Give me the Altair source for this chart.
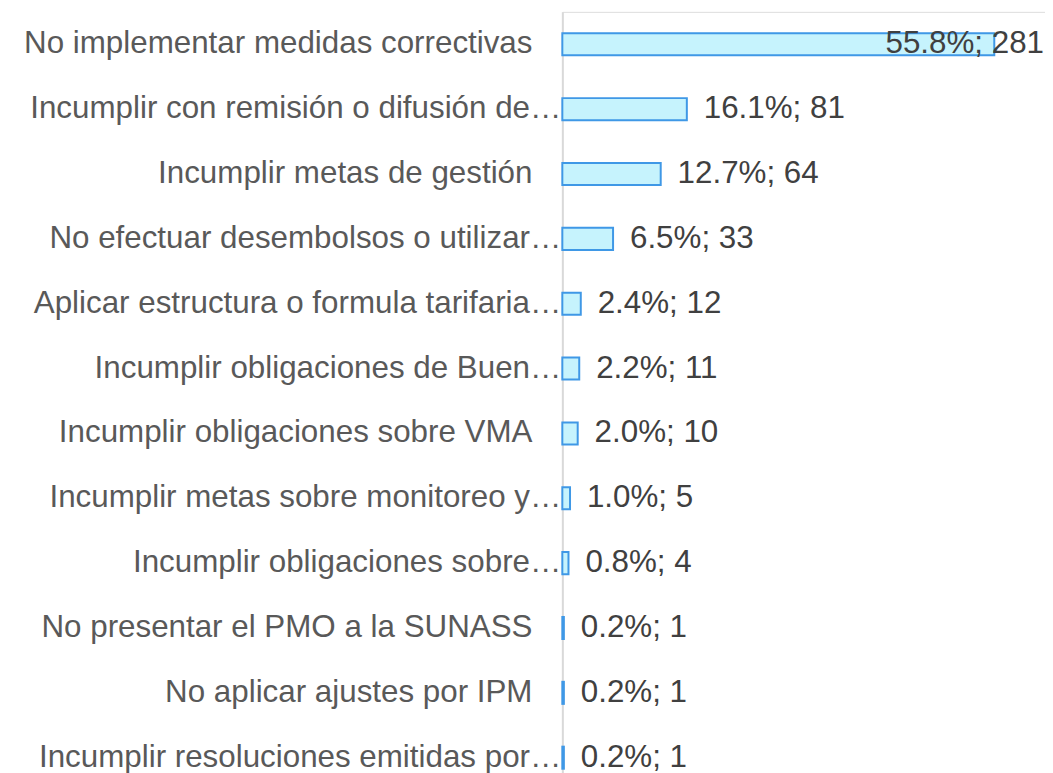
import altair as alt
import pandas as pd

categories = [
    "No implementar medidas correctivas",
    "Incumplir con remisión o difusión de…",
    "Incumplir metas de gestión",
    "No efectuar desembolsos o utilizar…",
    "Aplicar estructura o formula tarifaria…",
    "Incumplir obligaciones de Buen…",
    "Incumplir obligaciones sobre VMA",
    "Incumplir metas sobre monitoreo y…",
    "Incumplir obligaciones sobre…",
    "No presentar el PMO a la SUNASS",
    "No aplicar ajustes por IPM",
    "Incumplir resoluciones emitidas por…",
]
counts = [281, 81, 64, 33, 12, 11, 10, 5, 4, 1, 1, 1]
percents = [55.8, 16.1, 12.7, 6.5, 2.4, 2.2, 2.0, 1.0, 0.8, 0.2, 0.2, 0.2]

df = pd.DataFrame({"cat": categories, "count": counts, "pct": percents})
df["label"] = [f"{p:.1f}%; {c}" for p, c in zip(percents, counts)]

FONT = "Liberation Sans"
FS = 31.5
W = 485
H = 782

y_scale = alt.Scale(domain=categories, paddingInner=0.66, paddingOuter=0.33)
y_enc = alt.Y(
    "cat:N",
    sort=categories,
    title=None,
    scale=y_scale,
    axis=alt.Axis(
        labels=False,
        ticks=False,
        domainColor="#D9D9D9",
        domainWidth=2,
        grid=False,
    ),
)
y_plain = alt.Y("cat:N", sort=categories, scale=y_scale)

x_scale = alt.Scale(domain=[0, 314], nice=False)

base = alt.Chart(df)

bars = base.mark_bar(
    fill="#C6F3FD", stroke="#3F98E6", strokeWidth=2
).encode(
    y=y_enc,
    x=alt.X("count:Q", scale=x_scale, axis=None),
)

cat_full = base.transform_filter(
    "indexof(datum.cat, '…') < 0"
).mark_text(
    align="right", baseline="middle", dx=-30, font=FONT, fontSize=FS, color="#595959"
).encode(y=y_plain, x=alt.value(0), text="cat:N")

cat_trunc = base.transform_filter(
    "indexof(datum.cat, '…') >= 0"
).mark_text(
    align="right", baseline="middle", dx=-1, font=FONT, fontSize=FS, color="#595959"
).encode(y=y_plain, x=alt.value(0), text="cat:N")

text_main = base.transform_joinaggregate(
    maxc="max(count)"
).transform_filter(
    "datum.count < datum.maxc"
).mark_text(
    align="left", baseline="middle", dx=17, font=FONT, fontSize=FS, color="#404040"
).encode(
    y=y_plain,
    x=alt.X("count:Q", scale=x_scale),
    text="label:N",
)

text_max = base.transform_joinaggregate(
    maxc="max(count)"
).transform_filter(
    "datum.count == datum.maxc"
).mark_text(
    align="right", baseline="middle", dx=-1, font=FONT, fontSize=FS, color="#404040"
).encode(
    y=y_plain,
    x=alt.value(W),
    text="label:N",
)

chart = alt.layer(bars, cat_full, cat_trunc, text_main, text_max).properties(
    width=W,
    height=H,
    autosize=alt.AutoSizeParams(type="none"),
    padding={"left": 557, "top": 2, "right": 0, "bottom": 0},
).configure_view(stroke=None).configure(background="white")

chart.save("out.html", embed_options={"renderer": "svg", "actions": False})
